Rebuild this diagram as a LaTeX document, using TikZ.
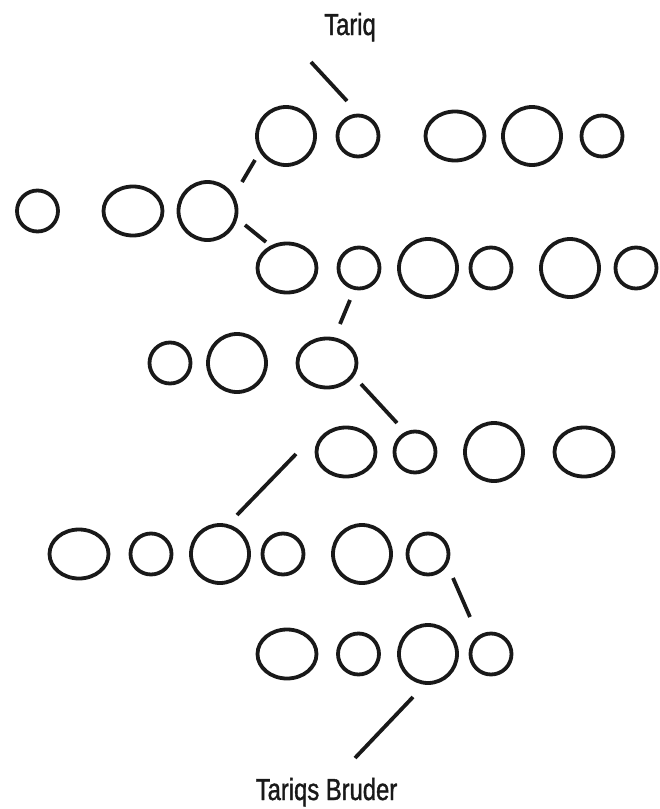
\documentclass[tikz,border=0pt]{standalone}
\usepackage{fontspec}
\setmainfont[FakeStretch=0.78, FakeBold=1.2]{Liberation Sans}
\usetikzlibrary{shapes.geometric, positioning}

\begin{document}
\begin{tikzpicture}[x=1pt, y=-1pt,
    ring/.style={draw=black!90, ellipse, line width=3.8pt, inner sep=0pt},
    bigring/.style={ring, minimum width=58pt, minimum height=58pt},
    wideshape/.style={ring, minimum width=59pt, minimum height=49pt},
    smallring/.style={ring, minimum width=41pt, minimum height=41pt},
    link/.style={draw=black!90, line width=3.8pt},
    person/.style={anchor=base, font=\fontsize{30.5}{31}\selectfont, text=black!90},
]
    \useasboundingbox (0,0) rectangle (659,809);

    % Labels
    \node[person] (tariq) at (350,35) {Tariq};
    \node[person] (bruder) at (326.5,800) {Tariqs Bruder};

    % Row 1
    \node[bigring] (a1) at (286,136) {};
    \node[smallring] (a2) at (358,136) {};
    \node[wideshape] (a3) at (455,136) {};
    \node[bigring] (a4) at (532,136) {};
    \node[smallring] (a5) at (602,136) {};

    % Row 2
    \node[smallring] (b1) at (37.5,211) {};
    \node[wideshape] (b2) at (133,211) {};
    \node[bigring] (b3) at (207.5,211) {};

    % Row 3
    \node[wideshape] (c1) at (287,268) {};
    \node[smallring] (c2) at (359,268) {};
    \node[bigring] (c3) at (428,268) {};
    \node[smallring] (c4) at (491,268) {};
    \node[bigring] (c5) at (570,268) {};
    \node[smallring] (c6) at (636,268) {};

    % Row 4
    \node[smallring] (d1) at (170,363) {};
    \node[bigring] (d2) at (237,363) {};
    \node[wideshape] (d3) at (327,363) {};

    % Row 5
    \node[wideshape] (e1) at (346,452) {};
    \node[smallring] (e2) at (415,452) {};
    \node[bigring] (e3) at (494,452) {};
    \node[wideshape] (e4) at (584,452) {};

    % Row 6
    \node[wideshape] (f1) at (79,554) {};
    \node[smallring] (f2) at (151,554) {};
    \node[bigring] (f3) at (220,554) {};
    \node[smallring] (f4) at (283,554) {};
    \node[bigring] (f5) at (362,554) {};
    \node[smallring] (f6) at (428,554) {};

    % Row 7
    \node[wideshape] (g1) at (287,654) {};
    \node[smallring] (g2) at (358.5,654) {};
    \node[bigring] (g3) at (428,654) {};
    \node[smallring] (g4) at (491,654) {};

    % link ends
    \coordinate (t1) at (311,62);   \coordinate (t2) at (347,101);
    \coordinate (ab1) at (242,182); \coordinate (ab2) at (255,160);
    \coordinate (bc1) at (245,225); \coordinate (bc2) at (266,242);
    \coordinate (cd1) at (350,300); \coordinate (cd2) at (340,324);
    \coordinate (de1) at (361,384); \coordinate (de2) at (397,423);
    \coordinate (ef1) at (296,454); \coordinate (ef2) at (237,515);
    \coordinate (fg1) at (453,578); \coordinate (fg2) at (470,617);
    \coordinate (gb1) at (413,697); \coordinate (gb2) at (355,758);

    % Links
    \draw[link] (t1) -- (t2);
    \draw[link] (ab1) -- (ab2);
    \draw[link] (bc1) -- (bc2);
    \draw[link] (cd1) -- (cd2);
    \draw[link] (de1) -- (de2);
    \draw[link] (ef1) -- (ef2);
    \draw[link] (fg1) -- (fg2);
    \draw[link] (gb1) -- (gb2);
\end{tikzpicture}
\end{document}
